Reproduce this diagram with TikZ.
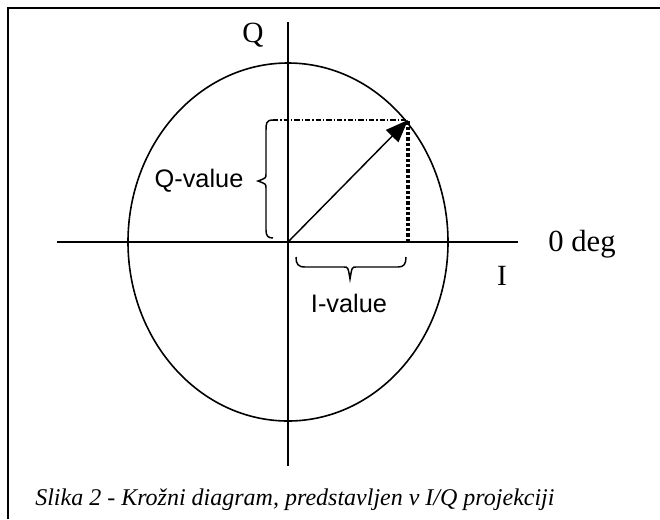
\documentclass[tikz,border=0pt]{standalone}
\usepackage{fontspec}
\setmainfont{Liberation Serif}
\newfontfamily\arialf{Liberation Sans}
\usetikzlibrary{arrows.meta}
\begin{document}
\begin{tikzpicture}[x=0.75pt,y=-0.75pt,
  axis/.style={line width=1.5pt},
  frameline/.style={line width=1.6pt},
  bracestyle/.style={line width=1.1pt},
  sanslabel/.style={font=\arialf\fontsize{19}{19}\selectfont, inner sep=0pt},
  seriflabel/.style={font=\fontsize{19}{19}\selectfont, inner sep=0pt}]
\useasboundingbox (0,0) rectangle (660,519);
% frame
\draw[frameline] (8,519) -- (8,8) -- (660,8);
% coordinates
\coordinate (O) at (288,242);
\coordinate (P) at (408,120);
\coordinate (Pb) at (408,242);
\coordinate (Qy) at (273,120);
% circle
\draw[line width=1.2pt] (O) ellipse [x radius=160, y radius=179];
% axes
\coordinate (xl) at (57,242);
\coordinate (xr) at (518,242);
\coordinate (yt) at (288,22);
\coordinate (yb) at (288,466);
\draw[axis] (xl) -- (xr);
\draw[axis] (yt) -- (yb);
% projection lines
\draw[line width=0.9pt, dash pattern=on 4pt off 1.5pt on 1pt off 1.5pt] (Qy) -- (P);
\draw[line width=2.4pt, dash pattern=on 2.6pt off 1.4pt] (Pb) -- (P);
% vector
\draw[line width=1.1pt, -{Triangle[length=17pt,width=13pt]}] (O) -- (P);
% Q brace
\draw[bracestyle] (273,120) .. controls (266,120) and (266,124) .. (266,130)
  -- (266,174) .. controls (266,178) .. (258,181)
  .. controls (266,184) .. (266,188) -- (266,230)
  .. controls (266,236) and (268,238) .. (273,238);
% I brace
\draw[bracestyle] (296,257) .. controls (296,264) and (298,267) .. (305,267)
  -- (344,267) .. controls (348,267) .. (350,279)
  .. controls (352,267) .. (356,267) -- (398,267)
  .. controls (404,267) and (406,264) .. (406,257);
% labels
\node[sanslabel] (qv) at (199,181) {Q-value};
\node[sanslabel] (iv) at (349,303) {I-value};
\node[seriflabel, font=\fontsize{22}{22}\selectfont] (qlab) at (253,35) {Q};
\node[seriflabel, font=\fontsize{22}{22}\selectfont] (ilab) at (502,276) {I};
\node[seriflabel, font=\fontsize{23}{23}\selectfont] (deg) at (582,244) {0 deg};
\node[font=\itshape\fontsize{18}{18}\selectfont, inner sep=0pt, anchor=west] (cap) at (35,500) {Slika 2 - Krožni diagram, predstavljen v I/Q projekciji};
\end{tikzpicture}
\end{document}
